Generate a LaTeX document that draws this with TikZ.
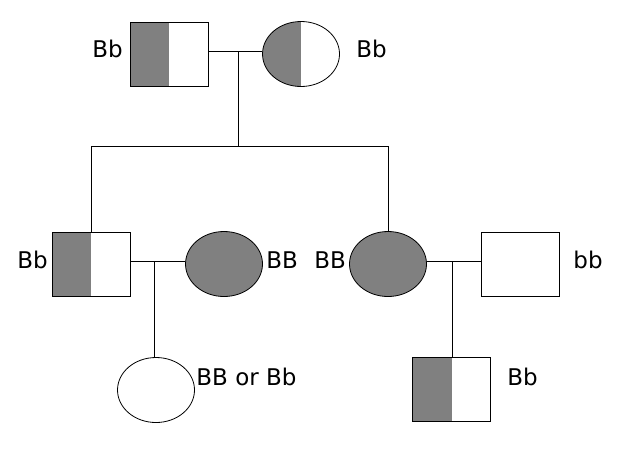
\documentclass[tikz,border=0pt]{standalone}
\usepackage{fontspec}
\setmainfont{DejaVu Sans}
\usetikzlibrary{shapes.geometric}
\begin{document}
\begin{tikzpicture}[x=1pt,y=-1pt,line width=0.8pt,
  male/.style={draw,rectangle,minimum width=78pt,minimum height=64pt,inner sep=0pt},
  female/.style={draw,ellipse,minimum width=77pt,minimum height=65pt,inner sep=0pt},
  half/.style={path picture={\fill[gray] (path picture bounding box.south west) rectangle (path picture bounding box.north);}},
  full/.style={fill=gray},
  lbl/.style={font=\fontsize{23}{27}\selectfont,inner sep=0pt,anchor=base west}]
\useasboundingbox (0,0) rectangle (628,464);
% generation I
\node[male,half] (F1) at (169,54) {};
\node[female,half] (M1) at (301,54) {};
\node[lbl] (lF1) at (92,57) {Bb};
\node[lbl] (lM1) at (356,57) {Bb};
\coordinate (c1) at (238,51);
\coordinate (s1) at (238,146);
\draw (F1.east |- c1) -- (M1.west |- c1);
\draw (c1) -- (s1);
% generation II
\node[male,half] (C1) at (91,264) {};
\node[female,full] (C2) at (388,264) {};
\node[female,full] (S1) at (224,264) {};
\node[male] (S2) at (520.5,264) {};
\node[lbl] (lC1) at (17,268) {Bb};
\node[lbl] (lS1) at (266,268) {BB};
\node[lbl] (lC2) at (314,268) {BB};
\node[lbl] (lS2) at (573,268) {bb};
\draw (C1.north) -- (C1.north |- s1) -- (C2.north |- s1) -- (C2.north);
\coordinate (c2) at (154,261);
\coordinate (c3) at (452,261);
\draw (C1.east |- c2) -- (S1.west |- c2);
\draw (C2.east |- c3) -- (S2.west |- c3);
% generation III
\node[female] (G1) at (156,390) {};
\node[male,half] (G2) at (451.5,389.5) {};
\node[lbl] (lG1) at (196,385) {BB or Bb};
\node[lbl] (lG2) at (507,385) {Bb};
\draw (c2) -- (G1.north -| c2);
\draw (c3) -- (G2.north -| c3);
\end{tikzpicture}
\end{document}
